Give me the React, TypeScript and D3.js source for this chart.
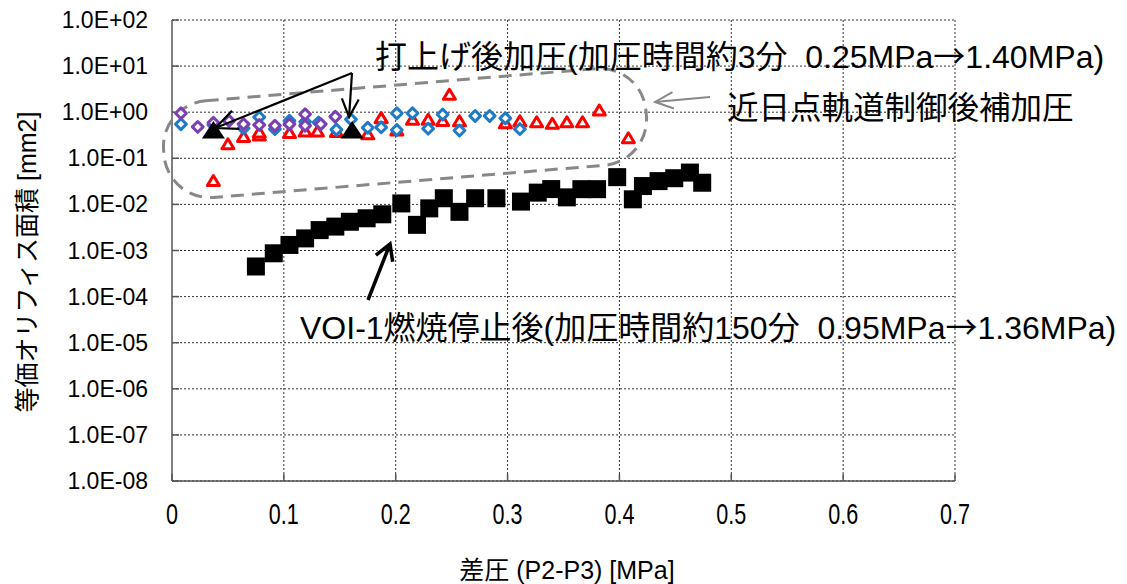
import * as d3 from 'd3';

const W = 1127;
const H = 584;

const xTicks = [0, 0.1, 0.2, 0.3, 0.4, 0.5, 0.6, 0.7];
const xTickLabels = ['0', '0.1', '0.2', '0.3', '0.4', '0.5', '0.6', '0.7'];
const yTicks = [1e2, 1e1, 1e0, 1e-1, 1e-2, 1e-3, 1e-4, 1e-5, 1e-6, 1e-7, 1e-8];
const yTickLabels = [
  '1.0E+02', '1.0E+01', '1.0E+00', '1.0E-01', '1.0E-02', '1.0E-03',
  '1.0E-04', '1.0E-05', '1.0E-06', '1.0E-07', '1.0E-08',
];

// 近日点軌道制御後補加圧 (red triangles)
const redX = [0.037, 0.050, 0.064, 0.078, 0.078, 0.105, 0.119, 0.130, 0.147, 0.175, 0.187, 0.201,
  0.215, 0.229, 0.242, 0.248, 0.257, 0.298, 0.311, 0.326, 0.340, 0.353, 0.367, 0.382, 0.408];
const redY = [0.032, 0.20, 0.29, 0.31, 0.36, 0.35, 0.38, 0.38, 0.37, 0.33, 0.74, 0.40,
  0.68, 0.68, 0.64, 2.37, 0.63, 0.57, 0.63, 0.60, 0.56, 0.60, 0.60, 1.08, 0.27];

// blue diamonds
const blueX = [0.008, 0.037, 0.064, 0.078, 0.092, 0.105, 0.119, 0.131, 0.147, 0.160, 0.175, 0.187,
  0.201, 0.201, 0.215, 0.229, 0.242, 0.257, 0.271, 0.284, 0.298, 0.311];
const blueY = [0.55, 0.53, 0.45, 0.78, 0.43, 0.65, 0.62, 0.60, 0.42, 0.70, 0.46, 0.47,
  0.95, 0.41, 0.95, 0.44, 0.89, 0.40, 0.83, 0.83, 0.74, 0.43];

// purple diamonds
const purpleX = [0.008, 0.023, 0.037, 0.051, 0.064, 0.078, 0.092, 0.105, 0.119, 0.119, 0.133, 0.146];
const purpleY = [0.95, 0.48, 0.59, 0.65, 0.55, 0.53, 0.51, 0.55, 0.90, 0.51, 0.55, 0.80];

// 打上げ後加圧 (black triangles)
const launchX = [0.037, 0.161];
const launchY = [0.39, 0.39];

// VOI-1燃焼停止後 (black squares)
const voiX = [0.075, 0.091, 0.105, 0.119, 0.132, 0.146, 0.159, 0.174, 0.188, 0.205, 0.219, 0.230,
  0.243, 0.257, 0.271, 0.290, 0.312, 0.327, 0.339, 0.353, 0.366, 0.380, 0.398, 0.412, 0.421,
  0.435, 0.449, 0.463, 0.474];
const voiY = [4.5e-4, 8.7e-4, 1.32e-3, 1.83e-3, 2.77e-3, 3.3e-3, 4.2e-3, 5.0e-3, 6.1e-3, 0.0105,
  3.6e-3, 8.2e-3, 0.0136, 6.9e-3, 0.0136, 0.0136, 0.0115, 0.018, 0.0215, 0.0142, 0.0214, 0.0214,
  0.039, 0.0129, 0.025, 0.032, 0.037, 0.049, 0.0295];

const jp = '"Liberation Sans", "Noto Sans CJK JP", sans-serif';
const cjk = '"Noto Sans CJK JP", sans-serif';

function arrowHead(x1: number, y1: number, x2: number, y2: number, len: number, spread: number) {
  // open V head at (x2, y2)
  const a = Math.atan2(y1 - y2, x1 - x2);
  const s = (spread * Math.PI) / 180;
  const p1 = [x2 + len * Math.cos(a + s), y2 + len * Math.sin(a + s)];
  const p2 = [x2 + len * Math.cos(a - s), y2 + len * Math.sin(a - s)];
  return `M${p1[0]},${p1[1]}L${x2},${y2}L${p2[0]},${p2[1]}`;
}

export default function App() {
  const x = d3.scaleLinear().domain([0, 0.7]).range([172, 955]);
  const y = d3.scaleLog().domain([1e-8, 1e2]).range([481, 20]);

  const diamond = 'M0,-5.4L5.4,0L0,5.4L-5.4,0Z';
  const smallTri = 'M0,-5.6L6,4.4L-6,4.4Z';
  const bigTri = 'M0,-10L11.5,7.5L-11.5,7.5Z';

  const red = redX.map((v, i) => [x(v), y(redY[i])]);
  const blue = blueX.map((v, i) => [x(v), y(blueY[i])]);
  const purple = purpleX.map((v, i) => [x(v), y(purpleY[i])]);
  const launch = launchX.map((v, i) => [x(v), y(launchY[i])]);
  const voi = voiX.map((v, i) => [x(v), y(voiY[i])]);

  const [t1, t2] = launch;

  return (
    <svg width={W} height={H} style={{ position: 'absolute', left: 0, top: 0, background: '#fff' }}>
      {/* grid */}
      {yTicks.map((t) => (
        <line key={'gy' + t} x1={x(0)} x2={x(0.7)} y1={y(t)} y2={y(t)}
          stroke="#333" strokeWidth={1} strokeDasharray="2,2" />
      ))}
      {xTicks.slice(1).map((t) => (
        <line key={'gx' + t} x1={x(t)} x2={x(t)} y1={y(1e2)} y2={y(1e-8)}
          stroke="#333" strokeWidth={1} strokeDasharray="2,2" />
      ))}
      {/* axes */}
      <line x1={x(0)} x2={x(0)} y1={y(1e2)} y2={y(1e-8)} stroke="#555" strokeWidth={1.5} />
      <line x1={x(0)} x2={x(0.7)} y1={y(1e-8)} y2={y(1e-8)} stroke="#555" strokeWidth={1.5} />
      {yTicks.map((t) => (
        <line key={'ty' + t} x1={x(0)} x2={x(0) + 7} y1={y(t)} y2={y(t)} stroke="#555" strokeWidth={1.5} />
      ))}
      {xTicks.map((t) => (
        <line key={'tx' + t} x1={x(t)} x2={x(t)} y1={y(1e-8)} y2={y(1e-8) - 7} stroke="#555" strokeWidth={1.5} />
      ))}
      {yTicks.map((t, i) => (
        <text key={'ly' + t} x={148} y={y(t)} textAnchor="end" dominantBaseline="central"
          fontFamily='"Liberation Sans", Arial, sans-serif' fontSize={23} fill="#000">
          {yTickLabels[i]}
        </text>
      ))}
      {xTicks.map((t, i) => (
        <text key={'lx' + t} transform={`translate(${x(t)},514) scale(0.72,1)`} textAnchor="middle"
          dominantBaseline="central" fontFamily='"Liberation Sans", Arial, sans-serif' fontSize={30} fill="#000">
          {xTickLabels[i]}
        </text>
      ))}
      <text x={567} y={570} textAnchor="middle" dominantBaseline="central" fontFamily={jp} fontSize={25}
        style={{ whiteSpace: 'pre' }}>差圧 (P2-P3) [MPa]</text>
      <text transform="translate(27,262) rotate(-90)" textAnchor="middle" dominantBaseline="central"
        fontFamily={jp} fontSize={25} style={{ whiteSpace: 'pre' }}>等価オリフィス面積 [mm2]</text>

      {/* dashed capsule around post-launch / post-perihelion points */}
      <rect x={405 - 242} y={133 - 48.5} width={484} height={97} rx={46} ry={46}
        transform="rotate(-4.7,405,133)" fill="none" stroke="#888" strokeWidth={3} strokeDasharray="13,8" />

      {/* data */}
      {red.map(([px, py], i) => (
        <path key={'r' + i} d={smallTri} transform={`translate(${px},${py})`} fill="#fff" stroke="#f00" strokeWidth={3} strokeLinejoin="round" />
      ))}
      {blue.map(([px, py], i) => (
        <path key={'b' + i} d={diamond} transform={`translate(${px},${py})`} fill="#fff" stroke="#1f7ac8" strokeWidth={3} strokeLinejoin="round" />
      ))}
      {purple.map(([px, py], i) => (
        <path key={'p' + i} d={diamond} transform={`translate(${px},${py})`} fill="#fff" stroke="#7a3fb0" strokeWidth={3} strokeLinejoin="round" />
      ))}
      {launch.map(([px, py], i) => (
        <path key={'l' + i} d={bigTri} transform={`translate(${px},${py})`} fill="#000" />
      ))}
      {voi.map(([px, py], i) => (
        <rect key={'v' + i} x={px - 9} y={py - 9} width={18} height={18} fill="#000" />
      ))}

      {/* annotations */}
      <g stroke="#000" strokeWidth={2.2} fill="none">
        <line x1={352} y1={73} x2={t1[0] + 2} y2={t1[1] - 3} />
        <path d={arrowHead(352, 73, t1[0] + 2, t1[1] - 3, 24, 24)} />
        <line x1={352} y1={73} x2={t2[0] - 3} y2={t2[1] - 14} />
        <path d={arrowHead(352, 73, t2[0] - 3, t2[1] - 14, 20, 25)} />
      </g>
      <g stroke="#000" strokeWidth={3.5} fill="none">
        <line x1={368} y1={300} x2={390} y2={244} />
        <path d={arrowHead(368, 300, 390, 244, 18, 30)} />
      </g>
      <g stroke="#888" strokeWidth={2} fill="none">
        <line x1={710} y1={97} x2={655} y2={102} />
        <path d={arrowHead(710, 97, 655, 102, 20, 24)} />
      </g>
      <text x={375} y={68} fontFamily={jp} fontSize={32} style={{ whiteSpace: 'pre' }}>
        打上げ後加圧(加圧時間約3分  0.25MPa<tspan fontFamily={cjk}>→</tspan>1.40MPa)
      </text>
      <text x={727} y={119} fontFamily={jp} fontSize={31.5}>近日点軌道制御後補加圧</text>
      <text x={300} y={339} fontFamily={jp} fontSize={32} style={{ whiteSpace: 'pre' }}>
        VOI-1燃焼停止後(加圧時間約150分  0.95MPa<tspan fontFamily={cjk}>→</tspan>1.36MPa)
      </text>
    </svg>
  );
}
